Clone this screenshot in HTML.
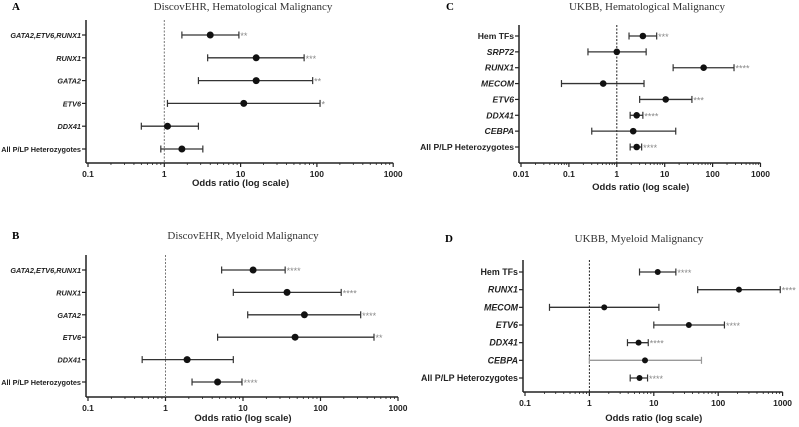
<!DOCTYPE html>
<html><head><meta charset="utf-8"><style>
html,body{margin:0;padding:0;background:#fff}
svg{display:block}
text{font-family:"Liberation Sans",Arial,sans-serif}
.serif{font-family:"Liberation Serif","Times New Roman",serif}
</style></head><body>
<svg id="c" width="799" height="427" viewBox="0 0 799 427" xmlns="http://www.w3.org/2000/svg"></svg>
<script>
// Panel A data
const aLabels=["GATA2,ETV6,RUNX1","RUNX1","GATA2","ETV6","DDX41","All P/LP Heterozygotes"];
const aOR=[4,16,16,11,1.1,1.7];
const aLo=[1.7,3.7,2.8,1.1,0.5,0.9];
const aHi=[9.5,68,88,110,2.8,3.2];
const aSig=["**","***","**","*","",""];
// Panel B data
const bLabels=["GATA2,ETV6,RUNX1","RUNX1","GATA2","ETV6","DDX41","All P/LP Heterozygotes"];
const bOR=[13.5,37,62,47,1.9,4.7];
const bLo=[5.3,7.5,11.5,4.7,0.5,2.2];
const bHi=[35,185,330,490,7.5,9.7];
const bSig=["****","****","****","**","","****"];
// Panel C data
const cLabels=["Hem TFs","SRP72","RUNX1","MECOM","ETV6","DDX41","CEBPA","All P/LP Heterozygotes"];
const cOR=[3.5,1.0,65,0.52,10.5,2.6,2.2,2.6];
const cLo=[1.8,0.25,15,0.07,3,1.9,0.3,1.9];
const cHi=[6.8,4.1,280,3.7,37,3.5,17,3.3];
const cSig=["***","","****","","***","****","","****"];
// Panel D data
const dLabels=["Hem TFs","RUNX1","MECOM","ETV6","DDX41","CEBPA","All P/LP Heterozygotes"];
const dOR=[11.5,210,1.7,35,5.8,7.3,6];
const dLo=[6,48,0.24,10,3.9,1,4.3];
const dHi=[22,920,12,125,8.2,55,8];
const dSig=["****","****","","****","****","","****"];
const aTicks=["0.1","1","10","100","1000"];
const cTicks=["0.01","0.1","1","10","100","1000"];

const NS="http://www.w3.org/2000/svg";
const svg=document.getElementById('c');
function el(tag,attrs,parent){const e=document.createElementNS(NS,tag);for(const k in attrs)e.setAttribute(k,attrs[k]);(parent||svg).appendChild(e);return e;}

function panel(cfg){
  const g=el('g',{});
  
  
  const lmin=Math.log10(cfg.xmin);
  const xs=v=>cfg.x0+(Math.log10(v)-lmin)*cfg.dec;
  const nDec=cfg.ticks.length-1;
  const xEnd=cfg.x0+nDec*cfg.dec;
  const n=cfg.labels.length;
  const ys=i=>cfg.rowTop+i*(cfg.rowBot-cfg.rowTop)/(n-1);
  const L=el('text',{x:cfg.lx,y:cfg.ty+4,'font-size':11,'font-weight':'bold',class:'serif'},g);L.textContent=cfg.letter;
  
  const T=el('text',{x:cfg.tx,y:cfg.ty+4,'font-size':11,'text-anchor':'middle',class:'serif',fill:'#333'},g);T.textContent=cfg.title;
  
  const ya=el('line',{x1:cfg.x0-2,y1:cfg.axTop,x2:cfg.x0-2,y2:cfg.axY,stroke:'#222','stroke-width':1.5},g);
  
  const xa=el('line',{x1:cfg.x0-2,y1:cfg.axY,x2:xEnd,y2:cfg.axY,stroke:'#222','stroke-width':1.5},g);
  
  for(let d=0;d<nDec;d++){
    const base=cfg.xmin*Math.pow(10,d);
    for(let m=2;m<=9;m++){const x=xs(base*m);el('line',{x1:x,y1:cfg.axY,x2:x,y2:cfg.axY+2,stroke:'#222','stroke-width':0.8},g);}
  }
  cfg.ticks.forEach((t,i)=>{
    const x=xs(parseFloat(t));
    el('line',{x1:x,y1:cfg.axY,x2:x,y2:cfg.axY+4,stroke:'#222','stroke-width':1.2},g);
    const tl=el('text',{x:x,y:cfg.axY+14,'font-size':8.5,'font-weight':'bold','text-anchor':'middle',fill:'#222'},g);tl.textContent=t;
    
  });
  const xt=el('text',{x:(cfg.x0+xEnd)/2,y:cfg.xtY,'font-size':9.5,'font-weight':'bold','text-anchor':'middle',fill:'#222'},g);xt.textContent='Odds ratio (log scale)';
  
  const rl=el('line',{x1:xs(1),y1:cfg.axTop,x2:xs(1),y2:cfg.axY,stroke:cfg.refCol,'stroke-width':1,'stroke-dasharray':'2,1.5'},g);
  
  cfg.labels.forEach((lab,i)=>{
    const y=ys(i);
    el('line',{x1:cfg.x0-6,y1:y,x2:cfg.x0-2,y2:y,stroke:'#222','stroke-width':1.2},g);
    const lt=el('text',{x:cfg.x0-7,y:y+3,'font-size':cfg.lfs,'font-weight':'bold','font-style':(lab.startsWith('Hem')||lab.startsWith('All'))?'normal':'italic','text-anchor':'end',fill:'#222'},g);lt.textContent=lab;
    
    const col=(cfg.gray&&cfg.gray[i])?'#999':'#333';
    const x1=xs(cfg.lo[i]),x2=xs(cfg.hi[i]);
    const ci=el('line',{x1:x1,y1:y,x2:x2,y2:y,stroke:col,'stroke-width':1.3},g);
    
    el('line',{x1:x1,y1:y-3.5,x2:x1,y2:y+3.5,stroke:col,'stroke-width':1.2},g);
    el('line',{x1:x2,y1:y-3.5,x2:x2,y2:y+3.5,stroke:col,'stroke-width':1.2},g);
    const p=el('circle',{cx:xs(cfg.or[i]),cy:y,r:cfg.r,fill:'#111'},g);
    
    if(cfg.sig[i]){const s=el('text',{x:x2+1.5,y:y+4,'font-size':9,fill:'#888'},g);s.textContent=cfg.sig[i];
      }
  });
}
panel({name:'panel-a',letter:'A',title:'DiscovEHR, Hematological Malignancy',lx:12,tx:243,ty:6,x0:88,xmin:0.1,dec:76.3,ticks:aTicks,axTop:20,axY:163,rowTop:35,rowBot:149,xtY:186,labels:aLabels,or:aOR,lo:aLo,hi:aHi,sig:aSig,r:3.5,refCol:'#777',lfs:7.3});
panel({name:'panel-b',letter:'B',title:'DiscovEHR, Myeloid Malignancy',lx:12,tx:243,ty:235,x0:88,xmin:0.1,dec:77.5,ticks:aTicks,axTop:255,axY:397,rowTop:270,rowBot:382,xtY:421,labels:bLabels,or:bOR,lo:bLo,hi:bHi,sig:bSig,r:3.5,refCol:'#777',lfs:7.3});
panel({name:'panel-c',letter:'C',title:'UKBB, Hematological Malignancy',lx:446,tx:647,ty:6,x0:521,xmin:0.01,dec:47.9,ticks:cTicks,axTop:25,axY:163,rowTop:36,rowBot:147,xtY:190,labels:cLabels,or:cOR,lo:cLo,hi:cHi,sig:cSig,r:3.3,refCol:'#222',lfs:8.6});
panel({name:'panel-d',letter:'D',title:'UKBB, Myeloid Malignancy',lx:445,tx:639,ty:238,x0:525,xmin:0.1,dec:64.4,ticks:aTicks,axTop:260,axY:392,rowTop:272,rowBot:378,xtY:421,labels:dLabels,or:dOR,lo:dLo,hi:dHi,sig:dSig,r:3,refCol:'#222',gray:[0,0,0,0,0,1,0],lfs:8.9});
</script>
</body></html>
